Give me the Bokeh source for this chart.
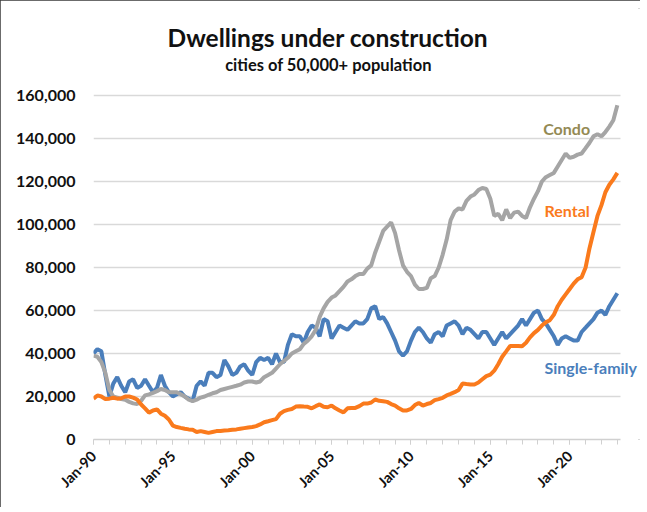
import pandas as pd
from bokeh.plotting import figure
from bokeh.models import (Range1d, FixedTicker, DatetimeTickFormatter,
                          NumeralTickFormatter, Label, BoxAnnotation,
                          ColumnDataSource)
from bokeh.embed import file_html
from bokeh.resources import INLINE

# Quarterly readings (Jan, Apr, Jul, Oct), 1990 through Jan 2023, in thousands
dates = pd.date_range("1990-01-01", periods=133, freq="QS")

single_family = [
    40, 42, 41, 30,   20, 26, 29, 25,   22, 27, 28, 24,   25, 28, 25, 22,
    24, 30, 25, 22,   20, 21, 22, 20,   19, 18, 25, 27,   25, 31, 31, 29,
    30, 37, 34, 30,   31, 34, 35, 32,   30, 36, 38, 37,   38, 35, 40, 36,
    36, 44, 49, 48,   48, 45, 50, 53,   52, 48, 56, 55,   47, 50, 53, 52,
    51, 53, 55, 54,   54, 56, 61, 62,   56, 57, 54, 50,   46, 41, 39, 41,
    46, 50, 52, 50,   47, 45, 49, 50,   48, 53, 54, 55,   53, 49, 52, 51,
    49, 47, 50, 50,   47, 44, 47, 50,   47, 49, 51, 53,   56, 53, 56, 59,
    60, 56, 54, 51,   48, 44, 47, 48,   47, 46, 46, 50,   52, 54, 56, 59,
    60, 58, 62, 65,   68,
]

condo = [
    39, 38.5, 36, 31,       23, 20, 19.5, 18.8,     18.5, 17.5, 16.8, 16.5,
    18, 20.5, 21, 21.7,     22.5, 23.5, 23, 22,     22, 22, 21, 20,
    18.5, 17.8, 18.5, 19.5, 20, 20.8, 21.5, 22,     23, 23.5, 24, 24.5,
    25, 25.5, 26.5, 27,     27, 26.5, 27, 29,       30, 31, 33, 35,
    36.5, 38, 40, 41,       42, 44.5, 46, 48,       51, 57, 61, 64,
    66, 67, 69, 71,         73.5, 74.5, 76, 77,     77, 79.5, 81, 87,
    92, 97, 99, 101,        96, 88, 81, 78,         76, 72, 70, 70,
    70.5, 75, 76, 80,       86, 93, 102, 106,       107.5, 107, 111, 113,
    114, 116, 117, 116.5,   112, 104, 105, 102,     107, 103, 105.5, 106,
    104, 103, 108, 112,     115.5, 120, 122, 123,   124, 127, 130, 133,
    131, 131.5, 132.5, 133, 135.5, 138, 141, 142,   141, 143, 145.5, 148.5,
    155.5,
]

rental = [
    19, 20.5, 20, 18.8,     19, 19.4, 19, 19.2,     20, 20, 19.5, 18.6,
    16.3, 14.5, 12.5, 13.5, 14, 12, 11, 9.3,        6.5, 5.8, 5.4, 5,
    4.7, 4.5, 3.5, 3.9,     3.5, 3.1, 3.5, 3.9,     4, 4.2, 4.3, 4.5,
    4.7, 5, 5.3, 5.6,       5.8, 6.2, 7, 8,         8.5, 9, 9.5, 12,
    13.2, 13.8, 14.2, 15.3, 15.5, 15.3, 15.2, 14.5, 15.5, 16.3, 15.2, 15,
    15.8, 14.5, 13.5, 12.6, 14.5, 14.7, 14.7, 15.5, 16.7, 16.7, 17.2, 18.6,
    18, 17.8, 17.5, 16.5,   15.8, 14.5, 13.5, 13.5, 14.2, 16, 17, 15.8,
    16.5, 17, 18.3, 18.8,   19.4, 20.5, 21.2, 22,   23, 26, 25.8, 25.6,
    25.6, 26.5, 28, 29.5,   30.2, 32, 35, 38.5,     41, 43.5, 43.5, 43.5,
    43.4, 45, 47.5, 49.5,   51, 53, 54.5, 55.5,     58, 62, 65, 67.5,
    70, 72.5, 74.5, 75.5,   80, 89, 96.5, 104,      109, 115, 118.5, 121,
    124,
]

y_ticks = [0, 20000, 40000, 60000, 80000, 100000, 120000, 140000, 160000]
x_major_years = [1990, 1995, 2000, 2005, 2010, 2015, 2020]
x_minor_years = list(range(1990, 2024))

FONT = "Lato"
C_SF = "#4a7ebb"
C_CONDO = "#a5a5a5"
C_RENTAL = "#fa7a1c"
TXT = "#111111"


def ms(ts):
    return pd.Timestamp(ts).value / 1e6


# ---- layout (pixels) ----
W, H = 640, 507
MB_L, MB_R, MB_T, MB_B = 93, 0, 8, 68
frame_w = W - MB_L - MB_R
frame_h = H - MB_T - MB_B
AXIS_PX = 527           # length of the drawn x axis
VAL_PX = 344            # pixels for 0..160,000

t0 = ms("1990-01-01")
t_axis = ms("2023-03-15")
x_end = t0 + (t_axis - t0) * frame_w / AXIS_PX
y_end = 160000 * frame_h / VAL_PX

src = ColumnDataSource(dict(
    date=dates,
    sf=[v * 1000 for v in single_family],
    condo=[v * 1000 for v in condo],
    rental=[v * 1000 for v in rental],
))

p = figure(width=W, height=H, x_axis_type="datetime",
           output_backend="svg", toolbar_location=None, title=None,
           x_range=Range1d(t0, x_end), y_range=Range1d(0, y_end),
           min_border_left=MB_L, min_border_right=MB_R,
           min_border_top=MB_T, min_border_bottom=MB_B)
p.outline_line_color = None
p.styles = {"outline": "2px solid #3a3a3a", "outline-offset": "-2px"}

# grid
p.xgrid.grid_line_color = None
p.ygrid.ticker = FixedTicker(ticks=y_ticks)
p.ygrid.grid_line_color = "#d9d9d9"
p.ygrid.grid_line_width = 1.5
# keep grid lines from running past the end of the x axis
p.add_layout(BoxAnnotation(left=t_axis, fill_color="white", fill_alpha=1,
                           line_alpha=0, level="underlay"))

# y axis
p.yaxis.ticker = FixedTicker(ticks=y_ticks)
p.yaxis.formatter = NumeralTickFormatter(format="0,0")
p.yaxis.axis_line_color = None
p.yaxis.major_tick_line_color = None
p.yaxis.minor_tick_line_color = None
p.yaxis.major_label_text_font = FONT
p.yaxis.major_label_text_font_style = "bold"
p.yaxis.major_label_text_font_size = "16px"
p.yaxis.major_label_text_color = TXT
p.yaxis.major_label_standoff = 12

# x axis
p.xaxis.bounds = (t0, t_axis)
p.xaxis.ticker = FixedTicker(ticks=[ms(f"{y}-01-01") for y in x_major_years],
                             minor_ticks=[ms(f"{y}-01-01") for y in x_minor_years])
fmt = "%b-%y"
p.xaxis.formatter = DatetimeTickFormatter(
    years=fmt, months=fmt, days=fmt, hours=fmt, hourmin=fmt, minutes=fmt,
    minsec=fmt, seconds=fmt, milliseconds=fmt, microseconds=fmt)
p.xaxis.axis_line_color = "#d0d0d0"
p.xaxis.axis_line_width = 1.5
p.xaxis.major_tick_line_color = "#d0d0d0"
p.xaxis.minor_tick_line_color = "#d0d0d0"
p.xaxis.major_tick_in = 0
p.xaxis.major_tick_out = 5
p.xaxis.minor_tick_in = 0
p.xaxis.minor_tick_out = 5
p.xaxis.major_label_orientation = 0.785
p.xaxis.major_label_text_font = FONT
p.xaxis.major_label_text_font_style = "bold"
p.xaxis.major_label_text_font_size = "14.5px"
p.xaxis.major_label_text_color = TXT
p.xaxis.major_label_standoff = 9

# series
p.line("date", "sf", source=src, line_color=C_SF, line_width=4)
p.line("date", "condo", source=src, line_color=C_CONDO, line_width=4)
p.line("date", "rental", source=src, line_color=C_RENTAL, line_width=4)

# titles
p.add_layout(Label(x=ms("2004-10-05"), y=187000,
                   text="Dwellings under construction", text_color=TXT,
                   text_font=FONT, text_font_size="24.5px", text_font_style="bold",
                   text_align="center", text_baseline="middle"))
p.add_layout(Label(x=ms("2004-10-20"), y=174000,
                   text="cities of 50,000+ population", text_color=TXT,
                   text_font=FONT, text_font_size="16.5px", text_font_style="bold",
                   text_align="center", text_baseline="middle"))

# series labels
lab_style = dict(text_font=FONT, text_font_size="16px", text_font_style="bold",
                 text_baseline="middle", text_align="left")
p.add_layout(Label(x=ms("2018-05-01"), y=144500, text="Condo",
                   text_color="#948a54", **lab_style))
p.add_layout(Label(x=ms("2018-06-01"), y=106500, text="Rental",
                   text_color=C_RENTAL, **lab_style))
p.add_layout(Label(x=ms("2018-06-01"), y=33500, text="Single-family",
                   text_color=C_SF, **lab_style))

open("out.html", "w").write(file_html(p, INLINE))
